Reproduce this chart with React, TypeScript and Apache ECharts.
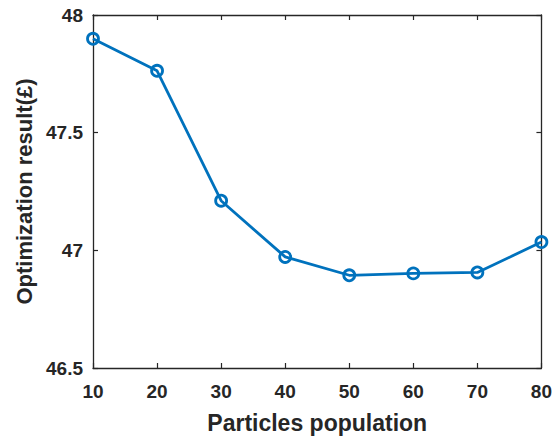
import React, { useEffect, useRef } from "react";
import * as echarts from "echarts";

const population = [10, 20, 30, 40, 50, 60, 70, 80];
const result = [47.899, 47.763, 47.211, 46.972, 46.894, 46.902, 46.906, 47.035];

export default function App() {
  const ref = useRef<HTMLDivElement>(null);
  useEffect(() => {
    const chart = echarts.init(ref.current!, null, { renderer: "svg" });
    const font = "'Liberation Sans', Arial, sans-serif";
    const axisLine = { show: true, lineStyle: { color: "#262626", width: 1.3 } };
    const tick = { show: true, inside: true, length: 5, lineStyle: { color: "#262626", width: 1.2 } };
    chart.setOption({
      animation: false,
      backgroundColor: "#ffffff",
      grid: { left: 93, right: 13, top: 15, bottom: 69, containLabel: false },
      xAxis: [
        {
          type: "value",
          min: 10,
          max: 80,
          interval: 10,
          position: "bottom",
          axisLine,
          axisTick: tick,
          splitLine: { show: false },
          axisLabel: { color: "#262626", fontSize: 19, fontWeight: "bold", fontFamily: font, margin: 14 },
          name: "Particles population",
          nameLocation: "middle",
          nameGap: 43,
          nameTextStyle: { color: "#262626", fontSize: 23, fontWeight: "bold", fontFamily: font },
        },
        {
          type: "value",
          min: 10,
          max: 80,
          interval: 10,
          position: "top",
          axisLine,
          axisTick: tick,
          splitLine: { show: false },
          axisLabel: { show: false },
        },
      ],
      yAxis: [
        {
          type: "value",
          min: 46.5,
          max: 48,
          interval: 0.5,
          position: "left",
          axisLine,
          axisTick: tick,
          splitLine: { show: false },
          axisLabel: { color: "#262626", fontSize: 19, fontWeight: "bold", fontFamily: font, margin: 10 },
          name: "Optimization result(£)",
          nameLocation: "middle",
          nameGap: 58,
          nameTextStyle: { color: "#262626", fontSize: 22, fontWeight: "bold", fontFamily: font },
        },
        {
          type: "value",
          min: 46.5,
          max: 48,
          interval: 0.5,
          position: "right",
          axisLine,
          axisTick: tick,
          splitLine: { show: false },
          axisLabel: { show: false },
        },
      ],
      series: [
        {
          type: "line",
          data: population.map((p, i) => [p, result[i]]),
          symbol: "circle",
          symbolSize: 11,
          lineStyle: { color: "#0072BD", width: 2.8 },
          itemStyle: { color: "rgba(0,0,0,0)", borderColor: "#0072BD", borderWidth: 2.8 },
          clip: false,
        },
      ],
    });
    return () => chart.dispose();
  }, []);
  return <div ref={ref} style={{ width: 555, height: 439, position: "absolute", left: 0, top: 0 }} />;
}
